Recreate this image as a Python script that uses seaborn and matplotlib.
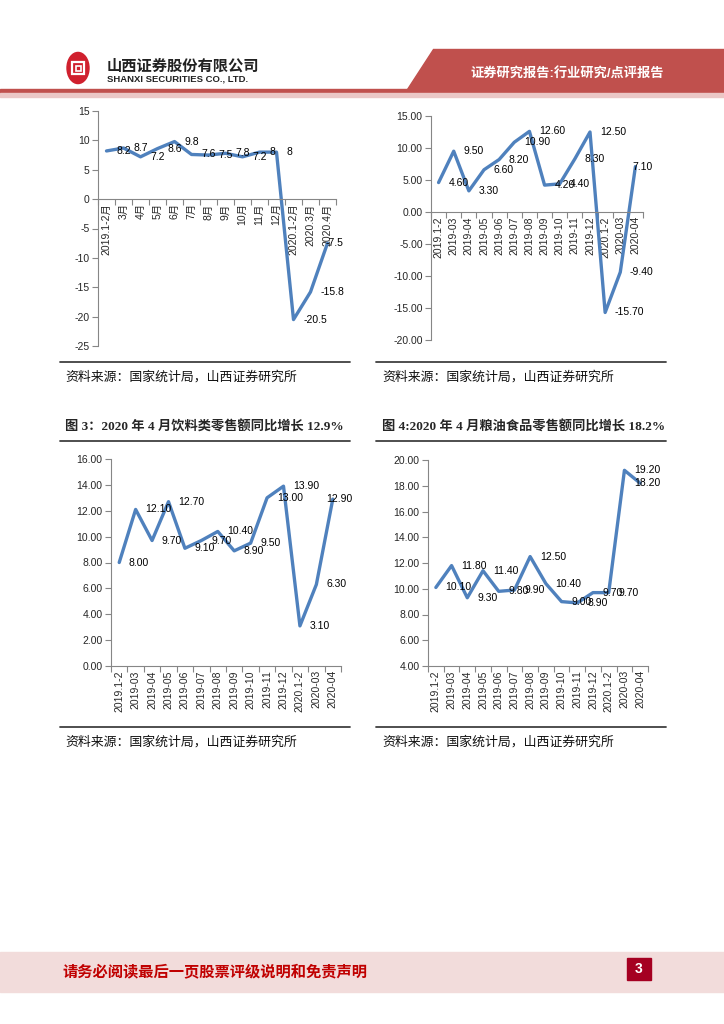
import matplotlib
matplotlib.use("Agg")
import matplotlib.pyplot as plt
import seaborn as sns
import pandas as pd
from matplotlib.patches import Rectangle, Polygon, Circle
from matplotlib.ticker import FormatStrFormatter

# ---- data ----
months_cn = ["2019.1-2月", "3月", "4月", "5月", "6月", "7月", "8月", "9月", "10月",
             "11月", "12月", "2020.1-2月", "2020.3月", "2020.4月"]
months = ["2019.1-2", "2019-03", "2019-04", "2019-05", "2019-06", "2019-07", "2019-08",
          "2019-09", "2019-10", "2019-11", "2019-12", "2020.1-2", "2020-03", "2020-04"]

retail_total = [8.2, 8.7, 7.2, 8.6, 9.8, 7.6, 7.5, 7.8, 7.2, 8.0, 8.0, -20.5, -15.8, -7.5]
retail_catering = [4.6, 9.5, 3.3, 6.6, 8.2, 10.9, 12.6, 4.2, 4.4, 8.3, 12.5, -15.7, -9.4, 7.1]
retail_drinks = [8.0, 12.1, 9.7, 12.7, 9.1, 9.7, 10.4, 8.9, 9.5, 13.0, 13.9, 3.1, 6.3, 12.9]
retail_grain_oil = [10.1, 11.8, 9.3, 11.4, 9.8, 9.9, 12.5, 10.4, 9.0, 8.9, 9.7, 9.7, 19.2, 18.2]

source_text = "资料来源：国家统计局，山西证券研究所"
title_3 = "图 3：2020 年 4 月饮料类零售额同比增长 12.9%"
title_4 = "图 4:2020 年 4 月粮油食品零售额同比增长 18.2%"

W, H = 724, 1024
LINE = "#4F81BD"
AXIS = "#868686"
RED = "#C0504D"

sns.set_style("white")
plt.rcParams["font.family"] = ["Liberation Sans", "Noto Sans CJK SC"]

fig = plt.figure(figsize=(W / 100, H / 100), dpi=100)


def fx(x):
    return x / W


def fy(y):
    return 1 - y / H


def draw_panel(box, labels, values, ymin, ymax, step, tick_fmt, label_fmt):
    x0, x1, ytop, ybot = box
    ax = fig.add_axes([fx(x0), fy(ybot), (x1 - x0) / W, (ybot - ytop) / H])
    n = len(values)
    df = pd.DataFrame({"pos": range(n), "value": values})
    sns.lineplot(data=df, x="pos", y="value", ax=ax, color=LINE, linewidth=2.4,
                 solid_joinstyle="round")
    ax.set_xlim(-0.5, n - 0.5)
    ax.set_ylim(ymin, ymax)
    ax.set_xlabel("")
    ax.set_ylabel("")
    for s in ["top", "right"]:
        ax.spines[s].set_visible(False)
    for s in ["left", "bottom"]:
        ax.spines[s].set_color(AXIS)
        ax.spines[s].set_linewidth(0.8)
    # x axis crosses at zero (or at the bottom when zero is off-scale)
    ax.spines["bottom"].set_position(("data", max(ymin, 0)))

    ax.set_yticks(list(range(ymin, ymax + 1, step)))
    ax.yaxis.set_major_formatter(FormatStrFormatter(tick_fmt))
    ax.set_xticks(range(n))
    ax.set_xticklabels(labels)
    ax.set_xticks([i - 0.5 for i in range(n + 1)], minor=True)
    ax.tick_params(axis="x", which="major", bottom=True, length=0, pad=3,
                   labelrotation=90, labelsize=7.5)
    ax.tick_params(axis="x", which="minor", bottom=True, length=4, color=AXIS, width=0.8)
    ax.tick_params(axis="y", left=True, length=4, color=AXIS, width=0.8, labelsize=7.5, pad=2)
    ax.patch.set_alpha(0)

    # data labels, Excel style: right of each point, last one pulled inside
    for i, v in enumerate(values):
        last = i == n - 1
        ax.annotate(label_fmt.format(v), (i, v), xytext=(5 if last else 7, 0),
                    textcoords="offset points", ha="center" if last else "left",
                    va="center", fontsize=7.5, color="black", annotation_clip=False)
    return ax


draw_panel((98, 336, 111, 346), months_cn, retail_total, -25, 15, 5, "%d", "{:g}")
draw_panel((431, 643, 116, 340), months, retail_catering, -20, 15, 5, "%.2f", "{:.2f}")
draw_panel((111, 341, 459, 666), months, retail_drinks, 0, 16, 2, "%.2f", "{:.2f}")
draw_panel((428, 648, 460, 666), months, retail_grain_oil, 4, 20, 2, "%.2f", "{:.2f}")

# ---- header ----
fig.patches.append(Polygon([(fx(433), fy(49)), (fx(724), fy(49)), (fx(724), fy(89)), (fx(407), fy(89))],
                           closed=True, color=RED, transform=fig.transFigure))
fig.patches.append(Rectangle((0, fy(93)), 1, 4 / H, color=RED, transform=fig.transFigure))
fig.patches.append(Rectangle((0, fy(97)), 1, 4 / H, color="#EBC7C6", transform=fig.transFigure))
fig.text(fx(567), fy(73), "证券研究报告:行业研究/点评报告", color="white", fontsize=9.5,
         fontweight="bold", ha="center", va="center")

# logo
fig.patches.append(Circle((fx(78), fy(68)), 11 / W, color="#D0202E", transform=fig.transFigure))
fig.patches.append(Rectangle((fx(72), fy(74)), 12 / W, 12 / H, fill=False, ec="white", lw=1.6,
                             transform=fig.transFigure))
fig.patches.append(Rectangle((fx(75.5), fy(70.5)), 5 / W, 5 / H, fill=False, ec="white", lw=1.2,
                             transform=fig.transFigure))
fig.text(fx(107), fy(66), "山西证券股份有限公司", fontsize=11, fontweight="bold",
         color="#222222", ha="left", va="center")
fig.text(fx(107), fy(79), "SHANXI SECURITIES CO., LTD.", fontsize=6.8, fontweight="bold",
         color="#222222", ha="left", va="center")

# ---- separators, sources and titles ----
for left, right in [(60, 350), (376, 666)]:
    for y in [362, 441, 727]:
        fig.add_artist(plt.Line2D([fx(left), fx(right)], [fy(y), fy(y)], color="#404040",
                                  lw=1.3, transform=fig.transFigure))
for x, y in [(65, 377), (382, 377), (65, 742), (382, 742)]:
    fig.text(fx(x), fy(y), source_text, fontsize=9.3, color="#111111", ha="left", va="center")

serif_cjk = ["Liberation Serif", "Noto Sans CJK SC"]
fig.text(fx(65), fy(427), title_3, fontsize=9.5, fontweight="bold", family=serif_cjk,
         ha="left", va="center")
fig.text(fx(382), fy(427), title_4, fontsize=9.5, fontweight="bold", family=serif_cjk,
         ha="left", va="center")

# ---- footer ----
fig.patches.append(Rectangle((0, fy(992)), 1, 40 / H, color="#F2DCDB", transform=fig.transFigure))
fig.text(fx(62), fy(972), "请务必阅读最后一页股票评级说明和免责声明", fontsize=11,
         fontweight="bold", color="#C00000", ha="left", va="center")
fig.patches.append(Rectangle((fx(627), fy(980)), 24 / W, 22 / H, color="#A50021",
                             transform=fig.transFigure))
fig.text(fx(639), fy(969), "3", fontsize=10, fontweight="bold", color="white",
         ha="center", va="center")

fig.savefig("out.png", dpi=100)
